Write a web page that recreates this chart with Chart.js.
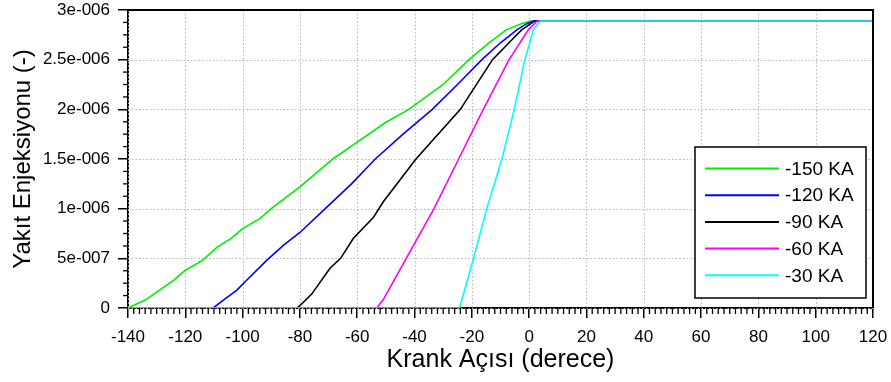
<!DOCTYPE html>
<html><head><meta charset="utf-8">
<script src="https://cdn.jsdelivr.net/npm/chart.js@4/dist/chart.umd.min.js"></script>
<style>html,body{margin:0;padding:0;background:#fff;overflow:hidden}#wrap{width:891px;height:382px}</style>
</head><body><div id="wrap"><canvas id="c" width="891" height="382"></canvas></div>
<script>
// ---- data ----
const seriesLabels = ['-150 KA', '-120 KA', '-90 KA', '-60 KA', '-30 KA'];
const seriesColors = ['#00ee00', '#0000ff', '#000000', '#ff00ff', '#00ffff'];

const xTickValues = [-140, -120, -100, -80, -60, -40, -20, 0, 20, 40, 60, 80, 100, 120];
const xTickLabels = ['-140', '-120', '-100', '-80', '-60', '-40', '-20', '0', '20', '40', '60', '80', '100', '120'];
const yTickValues = [0, 5e-7, 1e-6, 1.5e-6, 2e-6, 2.5e-6, 3e-6];
const yTickLabels = ['0', '5e-007', '1e-006', '1.5e-006', '2e-006', '2.5e-006', '3e-006'];

const ka150X = [-140, -134, -130, -124, -120, -114, -109, -104, -100, -94, -90, -80, -68.5, -60, -50, -42, -30, -21, -14, -8, -3, 0.5, 120];
const ka150Y = [0, 0.08e-6, 0.16e-6, 0.28e-6, 0.38e-6, 0.48e-6, 0.61e-6, 0.70e-6, 0.80e-6, 0.90e-6, 1.0e-6, 1.22e-6, 1.5e-6, 1.67e-6, 1.87e-6, 2.0e-6, 2.25e-6, 2.5e-6, 2.67e-6, 2.8e-6, 2.86e-6, 2.89e-6, 2.89e-6];

const ka120X = [-140, -110.3, -106.7, -102, -98.6, -91.6, -85.8, -80, -71.9, -62, -53.7, -44, -33.8, -25, -16.5, -10, -4.3, -1, 1.5, 120];
const ka120Y = [0, 0, 0.08e-6, 0.18e-6, 0.28e-6, 0.48e-6, 0.63e-6, 0.76e-6, 0.98e-6, 1.25e-6, 1.5e-6, 1.75e-6, 2.0e-6, 2.25e-6, 2.5e-6, 2.67e-6, 2.8e-6, 2.86e-6, 2.89e-6, 2.89e-6];

const ka90X = [-140, -81, -79.4, -75.9, -69.5, -65.8, -61.4, -54.4, -50.9, -39.5, -24, -12.8, -6, -2.6, 2, 120];
const ka90Y = [0, 0, 0.04e-6, 0.14e-6, 0.40e-6, 0.5e-6, 0.70e-6, 0.91e-6, 1.07e-6, 1.5e-6, 2.0e-6, 2.5e-6, 2.7e-6, 2.8e-6, 2.89e-6, 2.89e-6];

const ka60X = [-140, -53.2, -51, -42.9, -33.2, -24.6, -16, -7, -0.3, 2.8, 120];
const ka60Y = [0, 0, 0.08e-6, 0.5e-6, 1.0e-6, 1.5e-6, 2.0e-6, 2.5e-6, 2.8e-6, 2.89e-6, 2.89e-6];

const ka30X = [-140, -24.3, -19.4, -14.8, -9.5, -5.2, -1.5, 1.5, 3.8, 120];
const ka30Y = [0, 0, 0.5e-6, 1.0e-6, 1.5e-6, 2.0e-6, 2.5e-6, 2.8e-6, 2.89e-6, 2.89e-6];

const seriesX = [ka150X, ka120X, ka90X, ka60X, ka30X];
const seriesY = [ka150Y, ka120Y, ka90Y, ka60Y, ka30Y];

// ---- chart ----
const FONT = '"Liberation Sans", Arial, sans-serif';
const datasets = seriesLabels.map((lab, i) => ({
  label: lab,
  data: seriesX[i].map((x, j) => ({x: x, y: seriesY[i][j]})),
  borderColor: seriesColors[i],
  backgroundColor: seriesColors[i],
  borderWidth: 1.6,
  pointRadius: 0,
  tension: 0,
  fill: false,
  order: seriesLabels.length - 1 - i
}));

const decor = {
  id: 'decor',
  beforeDatasetsDraw(chart) {
    const {ctx, chartArea: a, scales: {x, y}} = chart;
    ctx.save();
    ctx.strokeStyle = '#b4b4b4';
    ctx.lineWidth = 1;
    ctx.setLineDash([1.5, 2.2]);
    xTickValues.forEach(v => {
      const px = Math.round(x.getPixelForValue(v)) + 0.5;
      ctx.beginPath(); ctx.moveTo(px, a.top); ctx.lineTo(px, a.bottom); ctx.stroke();
    });
    yTickValues.forEach(v => {
      const py = Math.round(y.getPixelForValue(v)) + 0.5;
      ctx.beginPath(); ctx.moveTo(a.left, py); ctx.lineTo(a.right, py); ctx.stroke();
    });
    ctx.restore();
  },
  afterDraw(chart) {
    const {ctx, chartArea: a, scales: {x, y}} = chart;
    ctx.save();
    ctx.strokeStyle = '#000';
    ctx.lineWidth = 1.3;
    for (let i = 0; i < xTickValues.length - 1; i++) {
      const v0 = xTickValues[i], v1 = xTickValues[i + 1];
      for (let k = 1; k < 10; k++) {
        const px = x.getPixelForValue(v0 + (v1 - v0) * k / 10);
        ctx.beginPath(); ctx.moveTo(px, a.bottom); ctx.lineTo(px, a.bottom + 6); ctx.stroke();
      }
    }
    for (let i = 0; i < yTickValues.length - 1; i++) {
      const v0 = yTickValues[i], v1 = yTickValues[i + 1];
      for (let k = 1; k < 4; k++) {
        const py = y.getPixelForValue(v0 + (v1 - v0) * k / 4);
        ctx.beginPath(); ctx.moveTo(a.left - 5, py); ctx.lineTo(a.left, py); ctx.stroke();
      }
    }
    ctx.lineWidth = 2;
    ctx.beginPath();
    ctx.moveTo(a.left, a.top); ctx.lineTo(a.right, a.top); ctx.lineTo(a.right, a.bottom);
    ctx.stroke();
    // legend
    const lx = 695, ly = 147, lw = 171, lh = 151;
    ctx.fillStyle = '#fff';
    ctx.fillRect(lx, ly, lw, lh);
    ctx.lineWidth = 1.5;
    ctx.strokeStyle = '#000';
    ctx.strokeRect(lx, ly, lw, lh);
    ctx.font = '19px ' + FONT;
    ctx.textBaseline = 'middle';
    ctx.textAlign = 'left';
    chart.data.datasets.forEach((ds, i) => {
      const ry = 168.5 + i * 26.7;
      ctx.strokeStyle = ds.borderColor;
      ctx.lineWidth = 2;
      ctx.beginPath(); ctx.moveTo(705, ry); ctx.lineTo(779, ry); ctx.stroke();
      ctx.fillStyle = '#000';
      ctx.fillText(ds.label, 785, ry + 1);
    });
    ctx.restore();
  }
};

new Chart(document.getElementById('c'), {
  type: 'line',
  data: {datasets: datasets},
  options: {
    responsive: false,
    animation: false,
    devicePixelRatio: 1,
    layout: {padding: {left: 0, right: 18, top: 10, bottom: 0}},
    plugins: {legend: {display: false}, tooltip: {enabled: false}},
    scales: {
      x: {
        type: 'linear', min: -140, max: 120,
        afterBuildTicks: s => { s.ticks = xTickValues.map(v => ({value: v})); },
        afterFit: s => { s.height = 74; s.paddingLeft = 0; s.paddingRight = 0; },
        grid: {display: true, drawOnChartArea: false, drawTicks: true, tickLength: 10, color: '#000', lineWidth: 1.5},
        border: {display: true, color: '#000', width: 2},
        ticks: {color: '#000', font: {family: FONT, size: 17}, padding: 9, maxRotation: 0, autoSkip: false,
          callback: (v, i) => xTickLabels[i]},
        title: {display: true, text: 'Krank Açısı (derece)', color: '#000', font: {family: FONT, size: 25}, padding: {top: 0, bottom: 7}}
      },
      y: {
        type: 'linear', min: 0, max: 3e-6,
        afterBuildTicks: s => { s.ticks = yTickValues.map(v => ({value: v})); },
        afterFit: s => { s.width = 128; s.paddingTop = 0; s.paddingBottom = 0; },
        grid: {display: true, drawOnChartArea: false, drawTicks: true, tickLength: 10, color: '#000', lineWidth: 1.5},
        border: {display: true, color: '#000', width: 2},
        ticks: {color: '#000', font: {family: FONT, size: 17}, padding: 8, autoSkip: false,
          callback: (v, i) => yTickLabels[i]},
        title: {display: true, text: 'Yakıt Enjeksiyonu (-)', color: '#000', font: {family: FONT, size: 24}, padding: {top: 9, bottom: 0}}
      }
    }
  },
  plugins: [decor]
});
</script>
</body></html>
